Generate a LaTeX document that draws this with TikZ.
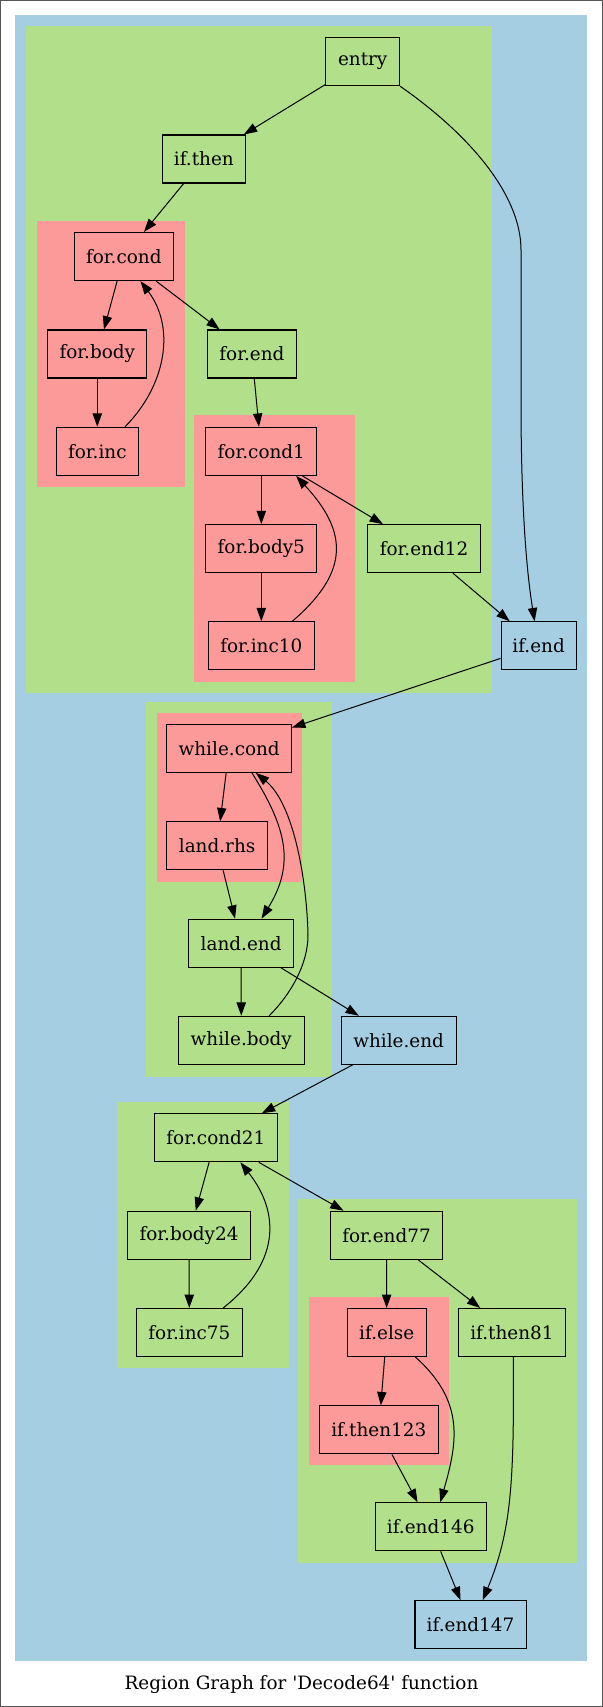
\documentclass[tikz,border=0pt]{standalone}
\usepackage{fontspec}
\setmainfont{DejaVu Serif}
\usetikzlibrary{arrows.meta,calc}
\definecolor{cblue}{HTML}{A6CEE3}
\definecolor{cgreen}{HTML}{B2DF8A}
\definecolor{cred}{HTML}{FB9A99}
\definecolor{framegray}{HTML}{555555}
\begin{document}
\begin{tikzpicture}[x=0.75pt,y=-0.75pt,
  blk/.style={draw=black,line width=0.8pt,minimum height=36pt,inner sep=0pt,font=\fontsize{13.8}{16}\selectfont},
  edge/.style={line width=0.75pt,-{Triangle[length=10pt,width=7pt]}}]
\useasboundingbox (0,0) rectangle (603,1707);
\draw[framegray,line width=1pt] (0.67,0.67) rectangle (602.33,1706.33);
% clusters
\fill[cblue] (15.4,15) rectangle (587.3,1660.7);
\fill[cgreen] (25.8,26) rectangle (491.5,692.7);
\fill[cred] (36.5,220.7) rectangle (185,486.7);
\fill[cred] (193.8,415) rectangle (355,681.7);
\fill[cgreen] (146.1,702) rectangle (331.5,1076.7);
\fill[cred] (156.5,712.7) rectangle (301.9,881.7);
\fill[cgreen] (116.5,1102) rectangle (288.8,1368.3);
\fill[cgreen] (298.4,1199.3) rectangle (576.5,1563.3);
\fill[cred] (309.2,1296.7) rectangle (448.8,1465.3);
% nodes
\node[blk,fill=cgreen,minimum width=55.4pt] (entry) at (362.7,61.7) {entry};
\node[blk,fill=cgreen,minimum width=62.3pt] (ifthen) at (203.8,159) {if.then};
\node[blk,fill=cred,minimum width=74.4pt] (forcond) at (123.8,256.5) {for.cond};
\node[blk,fill=cred,minimum width=74.4pt] (forbody) at (97.3,354) {for.body};
\node[blk,fill=cgreen,minimum width=66.3pt] (forend) at (251.9,354) {for.end};
\node[blk,fill=cred,minimum width=61.2pt] (forinc) at (97.3,451.3) {for.inc};
\node[blk,fill=cred,minimum width=83.4pt] (forcondA) at (261.3,451.3) {for.cond1};
\node[blk,fill=cred,minimum width=83.4pt] (forbodyA) at (261.3,548.7) {for.body5};
\node[blk,fill=cgreen,minimum width=84.5pt] (forendA) at (424,548.7) {for.end12};
\node[blk,fill=cred,minimum width=79.4pt] (forincA) at (261.3,645.8) {for.inc10};
\node[blk,fill=cblue,minimum width=56.3pt] (ifend) at (538.6,645.8) {if.end};
\node[blk,fill=cred,minimum width=93.5pt] (whilecond) at (229.2,748.3) {while.cond};
\node[blk,fill=cred,minimum width=75.3pt] (landrhs) at (217.1,845.8) {land.rhs};
\node[blk,fill=cgreen,minimum width=78.5pt] (landend) at (241.1,943.2) {land.end};
\node[blk,fill=cgreen,minimum width=94.4pt] (whilebody) at (241.3,1040.3) {while.body};
\node[blk,fill=cblue,minimum width=86.3pt] (whileend) at (398.6,1040.3) {while.end};
\node[blk,fill=cgreen,minimum width=92.6pt] (forcondB) at (215.9,1137.8) {for.cond21};
\node[blk,fill=cgreen,minimum width=92.6pt] (forbodyB) at (189,1235.2) {for.body24};
\node[blk,fill=cgreen,minimum width=79.4pt] (forincB) at (189.4,1332.5) {for.inc75};
\node[blk,fill=cgreen,minimum width=84.2pt] (forendB) at (386.5,1235.2) {for.end77};
\node[blk,fill=cred,minimum width=59.1pt] (ifelse) at (386.7,1332.5) {if.else};
\node[blk,fill=cgreen,minimum width=80.2pt] (ifthenA) at (511.9,1332.5) {if.then81};
\node[blk,fill=cred,minimum width=89.4pt] (ifthenB) at (378.8,1429.8) {if.then123};
\node[blk,fill=cgreen,minimum width=83pt] (ifendA) at (430.7,1526.8) {if.end146};
\node[blk,fill=cblue,minimum width=83.3pt] (ifendB) at (470.5,1624.7) {if.end147};
% edges
\draw[edge] (entry) -- (ifthen);
\draw[edge] (entry.south east) .. controls (470,135) and (521,195) .. (521,250) -- (521,400) .. controls (521,520) and (528,580) .. ($(ifend.north)+(-4,0)$);
\draw[edge] (ifthen) -- (forcond);
\draw[edge] (forcond) -- (forbody);
\draw[edge] (forcond) -- (forend);
\draw[edge] (forbody) -- (forinc);
\draw[edge] ($(forinc.north)+(27.7,0)$) .. controls (165,386.7) and (176.4,328.7) .. ($(forcond.south)+(16.6,0)$);
\draw[edge] (forend) -- (forcondA);
\draw[edge] (forcondA) -- (forbodyA);
\draw[edge] (forcondA) -- (forendA);
\draw[edge] (forbodyA) -- (forincA);
\draw[edge] ($(forincA.north)+(31,0)$) .. controls (352,570) and (346,530) .. ($(forcondA.south)+(34.8,0)$);
\draw[edge] (forendA) -- (ifend);
\draw[edge] (ifend) -- (whilecond);
\draw[edge] (whilecond) -- (landrhs);
\draw[edge] ($(whilecond.south)+(22.7,0)$) .. controls (286.4,827.6) and (295.3,863.8) .. ($(landend.north)+(20.4,0)$);
\draw[edge] (landrhs) -- (landend);
\draw[edge] (landend) -- (whilebody);
\draw[edge] (landend) -- (whileend);
\draw[edge] ($(whilebody.north)+(27.9,0)$) .. controls (290,995) and (308,965) .. (308,935) .. controls (307,885) and (295,805) .. ($(whilecond.south)+(26.6,0)$);
\draw[edge] (whileend) -- (forcondB);
\draw[edge] (forcondB) -- (forbodyB);
\draw[edge] (forcondB) -- (forendB);
\draw[edge] (forbodyB) -- (forincB);
\draw[edge] ($(forincB.north)+(33.7,0)$) .. controls (278,1265) and (282,1215) .. ($(forcondB.south)+(24.5,0)$);
\draw[edge] (forendB) -- (ifelse);
\draw[edge] (forendB) -- (ifthenA);
\draw[edge] (ifelse) -- (ifthenB);
\draw[edge] ($(ifelse.south)+(28.7,0)$) .. controls (465.4,1401.7) and (457.3,1442.7) .. ($(ifendA.north)+(9.6,0)$);
\draw[edge] (ifthenB) -- (ifendA);
\draw[edge] (ifendA) -- (ifendB);
\draw[edge] ($(ifthenA.south)+(1.5,0)$) .. controls (514,1480) and (512,1530) .. ($(ifendB.north)+(12.2,0)$);
% caption
\node[font=\fontsize{13.8}{16}\selectfont] (caption) at (301.5,1685) {Region Graph for \textquotesingle Decode64\textquotesingle{} function};
\end{tikzpicture}
\end{document}
